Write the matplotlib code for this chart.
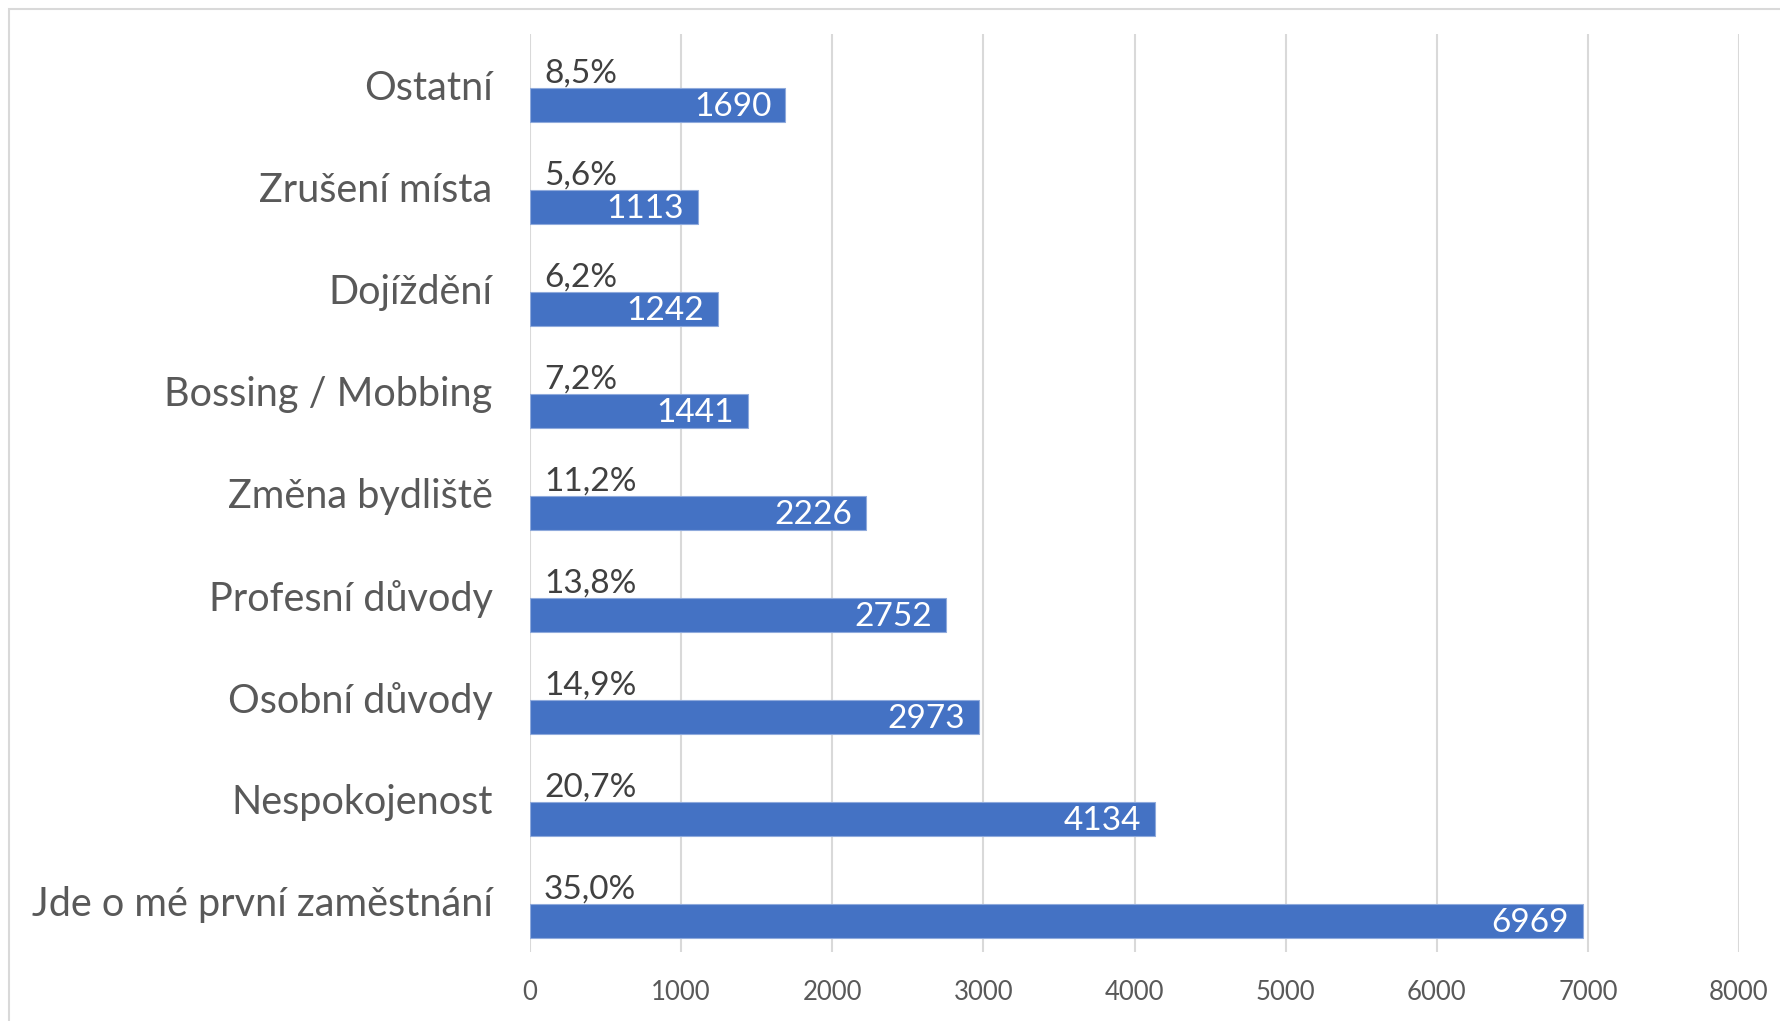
import numpy as np
import matplotlib.pyplot as plt
from matplotlib.patches import Rectangle

plt.rcParams['font.family'] = ['Lato', 'DejaVu Sans']

kategorie = ['Ostatní', 'Zrušení místa', 'Dojíždění', 'Bossing / Mobbing',
             'Změna bydliště', 'Profesní důvody', 'Osobní důvody',
             'Nespokojenost', 'Jde o mé první zaměstnání']
pocty = [1690, 1113, 1242, 1441, 2226, 2752, 2973, 4134, 6969]
podily = [0.085, 0.056, 0.062, 0.072, 0.112, 0.138, 0.149, 0.207, 0.350]
xticks = [0, 1000, 2000, 3000, 4000, 5000, 6000, 7000, 8000]

W, H = 1781, 1021
fig = plt.figure(figsize=(W / 100, H / 100), dpi=100)
ax = fig.add_axes([530 / W, 1 - 952 / H, (1739 - 530) / W, (952 - 34) / H])

# ramecek grafu
fig.patches.append(Rectangle((9 / W, -0.01), 1.0, 1 - 9 / H + 0.01,
                             transform=fig.transFigure, fill=False,
                             edgecolor='#D9D9D9', linewidth=1.5))

y = np.arange(len(kategorie))
h = 0.33
off = 0.195

ax.barh(y - off, podily, height=h, color='#ED7D31')
ax.barh(y + off, pocty, height=h, color='#4472C4', edgecolor='#8FAADC', linewidth=0.8)

for i in range(len(kategorie)):
    ax.annotate(f'{podily[i] * 100:.1f}%'.replace('.', ','), (podily[i], y[i] - off + 0.08),
                xytext=(14, 0), textcoords='offset pixels',
                ha='left', va='center', fontsize=24, color='#404040')
    ax.annotate(str(pocty[i]), (pocty[i], y[i] + off + 0.02),
                xytext=(-14, 0), textcoords='offset pixels',
                ha='right', va='center', fontsize=24, color='white')

ax.set_xlim(0, 8000)
ax.set_ylim(len(kategorie) - 0.5, -0.5)
ax.set_xticks(xticks)
ax.set_yticks(y)
ax.set_yticklabels(kategorie, fontsize=28.5, color='#595959')
ax.tick_params(axis='x', labelsize=18.5, labelcolor='#595959', length=0, pad=20)
ax.tick_params(axis='y', length=0, pad=27)
ax.grid(axis='x', color='#D9D9D9', linewidth=1.5)
ax.set_axisbelow(True)
for s in ax.spines.values():
    s.set_visible(False)

fig.savefig('out.png', dpi=100)
